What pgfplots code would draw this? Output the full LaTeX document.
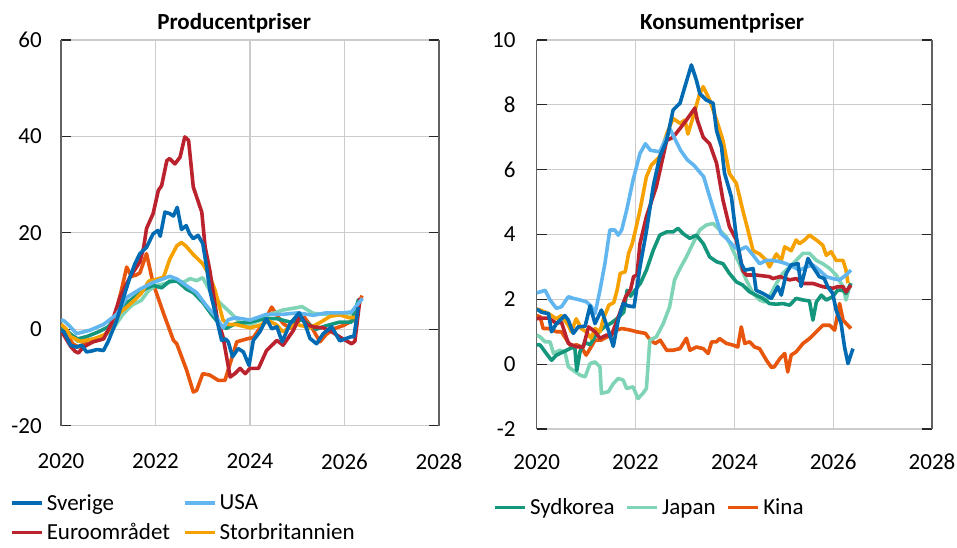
\documentclass[border=0pt]{standalone}
\usepackage{fontspec}
\setmainfont{Carlito}
\usepackage{pgfplots}
\pgfplotsset{compat=1.18}
\definecolor{cSE}{RGB}{0,106,179}
\definecolor{cUS}{RGB}{98,182,240}
\definecolor{cEU}{RGB}{186,34,46}
\definecolor{cUK}{RGB}{246,161,0}
\definecolor{cKR}{RGB}{20,150,124}
\definecolor{cJP}{RGB}{128,212,182}
\definecolor{cCN}{RGB}{232,86,14}
\pgfplotsset{
  panel/.style={
    scale only axis,
    font=\fontsize{23}{27}\selectfont,
    xmin=2020, xmax=2028,
    xtick={2020,2022,2024,2026,2028},
    xticklabels={2020,2022,2024,2026,2028},
    xmajorgrids, ymajorgrids,
    grid style={draw=black!20, line width=1.1pt},
    separate axis lines,
    every outer x axis line/.append style={draw=none},
    every outer y axis line/.append style={draw=black!62, line width=1.4pt},
    tick align=inside,
    major tick length=10pt,
    x tick style={draw=none},
    y tick style={draw=black!85, line width=1.1pt},
    no markers,
    every axis plot/.append style={line width=3.6pt, line join=round},
    legend image code/.code={\draw[##1, line width=3.6pt] (0pt,0pt) -- (30pt,0pt);},
    legend cell align=left,
  },
}
\begin{document}
\begin{tikzpicture}
\useasboundingbox (0,0) rectangle (957pt,-547pt);
% ---------------- Left panel ----------------
\begin{axis}[panel,
  at={(61pt,-425.7pt)}, anchor=south west,
  width=378pt, height=385.7pt,
  ymin=-20, ymax=60,
  ytick={-20,0,20,40,60}, yticklabels={-20,0,20,40,60},
  yticklabel style={anchor=east, inner sep=0pt, xshift=-19pt},
  xticklabel style={anchor=north, inner sep=0pt, yshift=-28pt},
  title={Producentpriser},
  title style={at={(axis description cs:0.458,1)}, anchor=base, yshift=5pt, font=\bfseries\fontsize{23}{27}\selectfont},
  legend columns=2,
  legend style={at={(axis description cs:-0.135,-0.176)}, anchor=north west, draw=none, fill=none, inner sep=0pt,
    nodes={inner xsep=3pt, inner ysep=0.5pt}, font=\fontsize{23}{27}\selectfont,
    /tikz/every even column/.append style={column sep=10pt}, row sep=11pt},
]
\addplot[cCN, forget plot] coordinates {
(2020.00,-0.3)(2020.10,-0.8)(2020.25,-3.0)(2020.37,-3.7)(2020.50,-3.0)(2020.70,-2.0)(2020.90,-1.5)
(2021.05,0.3)(2021.20,5.0)(2021.30,9.0)(2021.39,12.9)(2021.49,11.0)(2021.58,11.2)(2021.67,11.7)
(2021.81,15.7)(2021.95,9.5)(2022.17,3.3)(2022.38,-2.3)(2022.45,-3.0)(2022.66,-8.5)(2022.80,-13.0)
(2022.87,-12.7)(2023.00,-9.2)(2023.15,-9.5)(2023.33,-10.6)(2023.47,-10.6)(2023.58,-7.1)(2023.72,-2.6)
(2023.93,-2.0)(2024.07,-1.7)(2024.28,1.2)(2024.46,4.6)(2024.57,2.9)(2024.70,1.2)(2024.85,0.2)
(2025.00,1.5)(2025.15,2.5)(2025.30,0.5)(2025.48,-2.6)(2025.62,-1.0)(2025.80,0.2)(2025.98,0.8)
(2026.19,1.9)(2026.37,7.0)};
\addplot[cJP, forget plot] coordinates {
(2020.00,1.0)(2020.20,-1.0)(2020.35,-2.5)(2020.60,-2.2)(2020.90,-1.5)(2021.10,0.0)(2021.30,3.0)
(2021.50,5.0)(2021.70,6.0)(2021.85,8.0)(2022.00,9.0)(2022.20,9.5)(2022.40,10.0)(2022.60,9.8)
(2022.73,10.5)(2022.87,10.1)(2023.00,10.7)(2023.15,8.0)(2023.35,5.6)(2023.58,3.5)(2023.79,1.4)
(2024.00,1.0)(2024.20,1.8)(2024.40,3.0)(2024.70,4.0)(2025.00,4.5)(2025.10,4.7)(2025.34,3.3)
(2025.60,3.1)(2025.90,3.4)(2026.15,3.2)(2026.32,6.0)};
\addplot[cKR, forget plot] coordinates {
(2020.00,0.8)(2020.20,-1.0)(2020.35,-2.0)(2020.55,-1.5)(2020.80,-0.5)(2021.00,0.5)(2021.20,3.0)
(2021.40,5.5)(2021.60,7.0)(2021.80,8.5)(2021.95,9.1)(2022.13,8.6)(2022.30,10.0)(2022.46,10.0)
(2022.66,8.3)(2022.80,7.6)(2023.00,5.6)(2023.20,2.9)(2023.40,0.5)(2023.50,0.2)(2023.70,1.2)
(2024.00,1.5)(2024.30,2.2)(2024.57,2.2)(2024.85,1.5)(2025.10,2.0)(2025.40,0.0)(2025.60,0.7)
(2025.90,1.5)(2026.15,1.5)(2026.30,6.3)};
\addplot[cUK, forget plot] coordinates {
(2020.00,1.0)(2020.10,0.2)(2020.20,-1.5)(2020.40,-2.5)(2020.70,-2.0)(2020.95,-1.0)(2021.10,0.8)
(2021.25,3.5)(2021.39,4.6)(2021.55,6.0)(2021.70,7.5)(2021.86,10.0)(2022.00,10.3)(2022.17,10.8)
(2022.30,14.5)(2022.45,17.3)(2022.55,18.0)(2022.65,17.2)(2022.80,15.5)(2023.00,13.6)(2023.15,11.0)
(2023.26,8.1)(2023.43,1.9)(2023.55,1.0)(2023.70,1.0)(2024.00,0.3)(2024.20,0.8)(2024.40,1.7)
(2024.55,1.0)(2024.70,-0.5)(2024.85,0.5)(2025.00,1.0)(2025.27,0.3)(2025.50,1.5)(2025.70,2.7)
(2025.90,3.0)(2026.10,2.4)(2026.25,2.5)(2026.33,6.0)};
\addplot[cEU, forget plot] coordinates {
(2020.00,-0.5)(2020.06,-1.2)(2020.20,-3.5)(2020.30,-4.6)(2020.37,-4.9)(2020.47,-3.7)(2020.68,-2.6)
(2020.90,-2.0)(2021.07,1.2)(2021.25,6.7)(2021.46,10.8)(2021.67,14.0)(2021.75,17.0)(2021.81,20.9)
(2021.95,24.0)(2022.06,28.8)(2022.13,29.8)(2022.24,35.0)(2022.30,35.4)(2022.41,34.3)(2022.52,35.7)
(2022.62,39.9)(2022.70,39.2)(2022.80,29.5)(2022.98,24.3)(2023.05,17.1)(2023.15,12.2)(2023.30,2.6)
(2023.43,-1.6)(2023.58,-9.9)(2023.68,-9.2)(2023.79,-8.1)(2023.90,-9.2)(2024.00,-8.1)(2024.18,-8.1)
(2024.35,-4.4)(2024.57,-2.3)(2024.70,-3.3)(2024.92,-0.2)(2025.06,2.9)(2025.20,1.0)(2025.34,0.5)
(2025.55,0.3)(2025.73,-0.5)(2025.90,-1.6)(2026.15,-3.0)(2026.22,-2.5)(2026.33,6.5)};
\addplot[cUS, forget plot] coordinates {
(2020.00,2.0)(2020.07,1.7)(2020.17,0.8)(2020.33,-0.9)(2020.61,-0.2)(2020.90,1.0)(2021.18,3.1)
(2021.39,6.6)(2021.67,8.3)(2021.95,9.7)(2022.20,10.6)(2022.30,11.0)(2022.46,10.4)(2022.66,9.0)
(2022.87,7.6)(2023.07,5.0)(2023.28,2.6)(2023.43,0.3)(2023.54,2.0)(2023.70,2.4)(2024.00,1.9)
(2024.35,3.1)(2024.70,3.1)(2025.00,3.4)(2025.34,2.9)(2025.60,3.4)(2025.97,3.4)(2026.15,3.6)
(2026.38,6.4)};
\addplot[cSE, forget plot] coordinates {
(2020.00,-0.3)(2020.06,-0.5)(2020.20,-3.3)(2020.33,-3.7)(2020.44,-3.3)(2020.54,-4.7)(2020.65,-4.5)
(2020.76,-4.2)(2020.90,-4.4)(2021.00,-2.5)(2021.18,1.9)(2021.32,6.5)(2021.46,10.8)(2021.56,13.5)
(2021.67,15.7)(2021.81,17.0)(2021.95,19.8)(2022.05,20.5)(2022.10,19.3)(2022.20,24.3)(2022.30,24.0)
(2022.38,23.5)(2022.46,25.3)(2022.55,20.7)(2022.65,21.5)(2022.72,19.8)(2022.80,18.8)(2022.90,19.5)
(2023.00,17.8)(2023.08,13.0)(2023.15,8.1)(2023.30,1.9)(2023.40,-2.3)(2023.48,-2.0)(2023.54,-2.6)
(2023.63,-5.7)(2023.75,-4.0)(2023.86,-4.7)(2023.98,-7.5)(2024.07,-2.3)(2024.21,-0.5)(2024.35,2.2)
(2024.46,0.1)(2024.57,0.5)(2024.68,-2.6)(2024.85,1.2)(2025.04,3.4)(2025.16,1.2)(2025.27,-1.9)
(2025.41,-3.0)(2025.55,-0.9)(2025.73,0.5)(2025.90,-2.4)(2026.12,-1.6)(2026.20,-1.5)(2026.29,4.6)};
% legend entries (order: Sverige, USA / Euroområdet, Storbritannien)
\addlegendimage{cSE}\addlegendentry{Sverige}
\addlegendimage{cUS}\addlegendentry{USA}
\addlegendimage{cEU}\addlegendentry{Euroområdet}
\addlegendimage{cUK}\addlegendentry{Storbritannien}
\end{axis}
% ---------------- Right panel ----------------
\begin{axis}[panel,
  at={(536.7pt,-429pt)}, anchor=south west,
  width=395.3pt, height=389pt,
  ymin=-2, ymax=10,
  ytick={-2,0,2,4,6,8,10}, yticklabels={-2,0,2,4,6,8,10},
  yticklabel style={anchor=east, inner sep=0pt, xshift=-21pt},
  xticklabel style={anchor=north, inner sep=0pt, yshift=-25pt},
  title={Konsumentpriser},
  title style={at={(axis description cs:0.469,1)}, anchor=base, yshift=5pt, font=\bfseries\fontsize{23}{27}\selectfont},
  legend columns=3,
  legend style={at={(axis description cs:-0.11,-0.178)}, anchor=north west, draw=none, fill=none, inner sep=0pt,
    nodes={inner xsep=3pt, inner ysep=0.5pt}, font=\fontsize{23}{27}\selectfont,
    /tikz/every even column/.append style={column sep=8pt}},
]
\addplot[cCN, forget plot] coordinates {
(2020.00,1.5)(2020.07,1.46)(2020.13,1.1)(2020.24,1.1)(2020.40,1.0)(2020.50,1.0)(2020.61,0.74)
(2020.70,0.54)(2020.80,0.6)(2020.90,0.54)(2021.00,0.28)(2021.08,0.48)(2021.18,0.74)(2021.30,0.74)
(2021.50,0.9)(2021.62,1.05)(2021.72,1.1)(2021.90,1.05)(2022.02,1.0)(2022.20,0.95)(2022.30,0.74)
(2022.40,0.64)(2022.50,0.74)(2022.63,0.43)(2022.76,0.43)(2022.90,0.48)(2023.03,0.8)(2023.10,0.43)
(2023.23,0.53)(2023.37,0.48)(2023.47,0.33)(2023.54,0.69)(2023.64,0.69)(2023.70,0.79)(2023.84,0.64)
(2023.97,0.59)(2024.07,0.53)(2024.14,1.15)(2024.21,0.64)(2024.31,0.69)(2024.41,0.53)(2024.51,0.48)
(2024.65,0.12)(2024.75,-0.1)(2024.81,-0.08)(2024.92,0.17)(2025.02,0.33)(2025.08,-0.24)(2025.15,0.28)
(2025.25,0.38)(2025.39,0.64)(2025.52,0.79)(2025.66,1.0)(2025.79,1.2)(2025.93,1.2)(2026.03,1.05)
(2026.13,1.87)(2026.20,1.36)(2026.26,1.26)(2026.36,1.1)};
\addplot[cJP, forget plot] coordinates {
(2020.00,0.9)(2020.07,0.84)(2020.17,0.69)(2020.27,0.69)(2020.34,0.33)(2020.47,0.43)(2020.57,0.38)
(2020.64,-0.08)(2020.74,-0.19)(2020.88,-0.34)(2020.98,-0.39)(2021.08,0.02)(2021.18,0.07)(2021.28,-0.08)
(2021.31,-0.9)(2021.45,-0.85)(2021.55,-0.6)(2021.65,-0.44)(2021.75,-0.49)(2021.82,-0.75)(2021.95,-0.7)
(2022.05,-1.06)(2022.15,-0.9)(2022.22,-0.75)(2022.29,0.74)(2022.42,0.84)(2022.56,1.25)(2022.69,1.77)
(2022.79,2.6)(2022.90,2.95)(2023.03,3.31)(2023.16,3.72)(2023.30,4.14)(2023.43,4.29)(2023.57,4.34)
(2023.70,4.14)(2023.84,3.93)(2023.97,3.52)(2024.10,3.1)(2024.24,2.6)(2024.38,2.18)(2024.51,1.98)
(2024.61,1.92)(2024.71,2.08)(2024.85,2.49)(2024.98,2.8)(2025.12,3.0)(2025.25,3.2)(2025.39,3.42)
(2025.52,3.42)(2025.66,3.2)(2025.79,3.1)(2025.93,2.95)(2026.06,2.75)(2026.20,2.39)(2026.26,1.98)
(2026.33,2.39)};
\addplot[cKR, forget plot] coordinates {
(2020.00,0.6)(2020.07,0.59)(2020.17,0.38)(2020.30,0.12)(2020.40,0.28)(2020.54,0.38)(2020.67,0.48)
(2020.77,0.54)(2020.81,-0.2)(2020.88,0.41)(2020.98,0.67)(2021.08,0.6)(2021.20,0.9)(2021.35,1.13)
(2021.50,1.26)(2021.62,1.4)(2021.76,1.6)(2021.83,2.28)(2021.90,2.1)(2022.00,2.3)(2022.10,2.5)
(2022.22,2.9)(2022.36,3.52)(2022.49,3.98)(2022.63,4.08)(2022.76,4.08)(2022.86,4.19)(2022.96,4.03)
(2023.10,3.88)(2023.23,3.98)(2023.37,3.72)(2023.50,3.31)(2023.64,3.16)(2023.77,3.1)(2023.90,2.8)
(2024.04,2.54)(2024.17,2.44)(2024.31,2.23)(2024.44,2.13)(2024.58,2.03)(2024.71,1.87)(2024.85,1.85)
(2024.98,1.87)(2025.12,1.82)(2025.25,2.03)(2025.39,1.98)(2025.52,1.95)(2025.59,1.36)(2025.66,1.92)
(2025.76,2.13)(2025.86,1.98)(2025.99,2.08)(2026.09,2.28)(2026.20,2.28)(2026.26,2.18)(2026.36,2.5)};
\addplot[cUK, forget plot] coordinates {
(2020.00,1.7)(2020.07,1.67)(2020.24,1.56)(2020.40,1.4)(2020.50,1.5)(2020.64,1.2)(2020.70,1.0)
(2020.80,1.4)(2020.90,1.1)(2021.00,1.0)(2021.10,0.8)(2021.18,1.1)(2021.28,1.0)(2021.35,1.4)
(2021.46,1.82)(2021.56,1.9)(2021.63,2.3)(2021.69,2.8)(2021.79,2.85)(2021.86,3.42)(2021.93,3.7)
(2022.00,4.14)(2022.09,4.75)(2022.22,5.78)(2022.32,6.14)(2022.49,6.4)(2022.63,7.1)(2022.76,7.58)
(2022.90,7.43)(2023.00,7.53)(2023.06,7.1)(2023.16,7.6)(2023.30,8.35)(2023.37,8.56)(2023.50,8.15)
(2023.64,7.53)(2023.77,6.9)(2023.90,5.88)(2024.04,5.58)(2024.17,4.75)(2024.24,4.34)(2024.38,3.5)
(2024.51,3.4)(2024.65,3.2)(2024.71,3.0)(2024.85,3.4)(2024.95,3.2)(2025.02,3.62)(2025.15,3.5)
(2025.25,3.83)(2025.32,3.72)(2025.42,3.83)(2025.52,3.98)(2025.66,3.83)(2025.79,3.67)(2025.86,3.36)
(2025.96,3.47)(2026.06,3.2)(2026.20,3.2)(2026.26,2.9)(2026.30,2.5)};
\addplot[cEU, forget plot] coordinates {
(2020.00,1.4)(2020.07,1.42)(2020.24,1.42)(2020.40,1.26)(2020.50,1.3)(2020.64,0.64)(2020.80,0.54)
(2020.94,0.52)(2021.05,1.15)(2021.18,1.0)(2021.28,0.8)(2021.42,0.9)(2021.50,0.85)(2021.63,1.36)
(2021.80,2.08)(2021.90,2.3)(2021.96,2.7)(2022.03,2.75)(2022.09,3.72)(2022.22,4.55)(2022.42,5.47)
(2022.63,6.9)(2022.76,7.0)(2022.90,7.27)(2023.03,7.53)(2023.20,7.9)(2023.25,7.53)(2023.37,7.0)
(2023.50,6.8)(2023.64,6.2)(2023.77,5.06)(2023.90,4.24)(2024.04,3.83)(2024.17,2.9)(2024.24,2.75)
(2024.44,2.75)(2024.71,2.7)(2024.78,2.64)(2024.92,2.7)(2025.12,2.6)(2025.25,2.64)(2025.39,2.49)
(2025.59,2.49)(2025.79,2.39)(2025.99,2.34)(2026.09,2.39)(2026.20,2.39)(2026.26,2.23)(2026.36,2.44)};
\addplot[cUS, forget plot] coordinates {
(2020.00,2.2)(2020.07,2.23)(2020.17,2.28)(2020.27,1.98)(2020.40,1.72)(2020.50,1.77)(2020.64,2.08)
(2020.74,2.03)(2020.88,1.98)(2021.01,1.92)(2021.11,1.77)(2021.18,1.56)(2021.28,2.28)(2021.38,3.1)
(2021.48,4.14)(2021.58,4.14)(2021.65,3.98)(2021.72,4.14)(2021.82,4.75)(2021.95,5.68)(2022.09,6.5)
(2022.20,6.8)(2022.30,6.6)(2022.49,6.55)(2022.70,7.25)(2022.91,6.6)(2023.05,6.3)(2023.18,6.14)
(2023.38,5.78)(2023.52,5.06)(2023.73,4.03)(2023.84,3.88)(2024.00,3.62)(2024.10,3.52)(2024.24,3.62)
(2024.38,3.36)(2024.51,3.1)(2024.65,3.2)(2024.78,3.2)(2024.92,3.16)(2025.05,3.1)(2025.19,3.0)
(2025.32,2.9)(2025.46,3.0)(2025.59,3.06)(2025.72,2.9)(2025.86,2.7)(2025.99,2.64)(2026.13,2.6)
(2026.26,2.75)(2026.36,2.9)};
\addplot[cSE, forget plot] coordinates {
(2020.00,1.7)(2020.10,1.6)(2020.24,1.56)(2020.30,1.0)(2020.40,1.25)(2020.57,1.5)(2020.64,1.36)
(2020.74,0.95)(2020.84,1.15)(2020.98,1.17)(2021.08,1.8)(2021.18,1.25)(2021.31,1.67)(2021.45,1.05)
(2021.55,0.55)(2021.65,1.36)(2021.75,1.87)(2021.85,1.8)(2021.97,1.77)(2022.09,3.0)(2022.22,4.1)
(2022.36,5.5)(2022.49,6.4)(2022.63,6.9)(2022.76,7.84)(2022.90,8.05)(2023.13,9.23)(2023.23,8.77)
(2023.30,8.35)(2023.43,8.15)(2023.57,8.05)(2023.64,7.2)(2023.74,6.7)(2023.80,5.9)(2023.90,5.37)
(2023.94,5.16)(2024.04,3.93)(2024.14,3.1)(2024.21,2.9)(2024.38,2.95)(2024.44,2.28)(2024.58,2.18)
(2024.75,2.03)(2024.88,2.39)(2024.95,2.13)(2025.05,2.8)(2025.15,3.06)(2025.29,3.1)(2025.35,2.4)
(2025.49,3.26)(2025.59,3.0)(2025.72,2.7)(2025.82,2.64)(2025.89,2.39)(2025.99,2.18)(2026.06,1.67)
(2026.16,1.26)(2026.23,0.53)(2026.30,0.02)(2026.40,0.48)};
\addlegendimage{cKR}\addlegendentry{Sydkorea}
\addlegendimage{cJP}\addlegendentry{Japan}
\addlegendimage{cCN}\addlegendentry{Kina}
\end{axis}
\end{tikzpicture}
\end{document}
